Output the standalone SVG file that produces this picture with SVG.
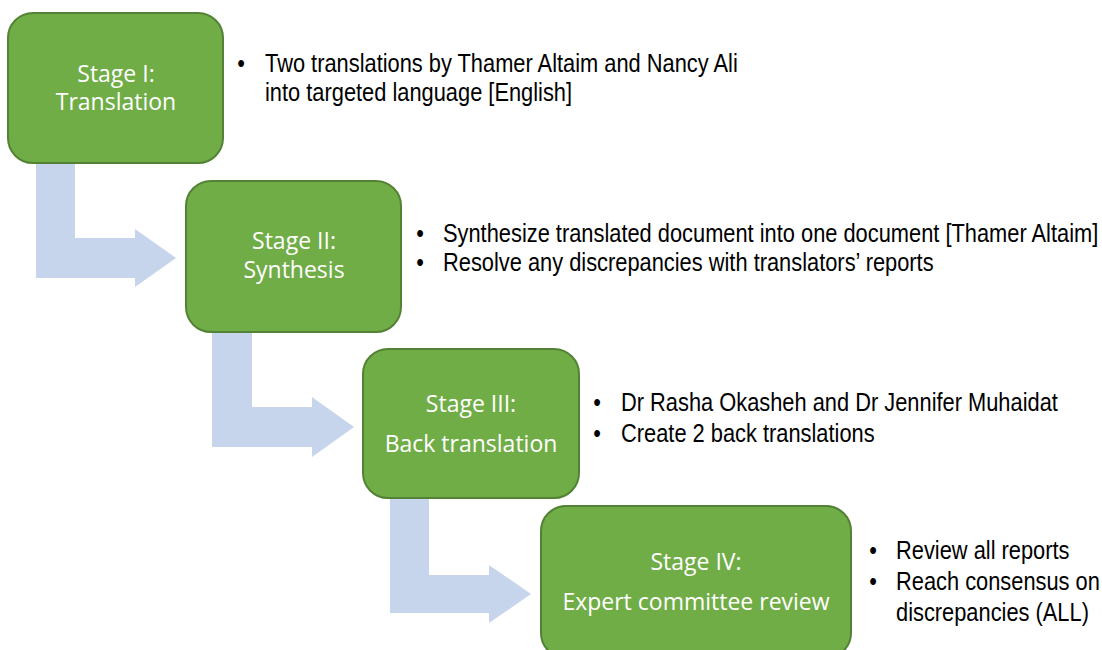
<svg xmlns="http://www.w3.org/2000/svg" width="1102" height="650" viewBox="0 0 1102 650">
  <style>
    .stage rect { fill: #70AD47; stroke: #548235; stroke-width: 2; }
    .stage text { font-family: "Open Sans", "Noto Sans", sans-serif; font-size: 23px; fill: #FFFFFF; text-anchor: middle; }
    .notes text { font-family: "Liberation Sans Narrow", "Liberation Sans", Arial, sans-serif; font-size: 26px; fill: #000000; }
    .notes .dot { text-anchor: middle; }
    .flow { fill: #C6D5EB; stroke: none; }
  </style>
  <rect width="1102" height="650" fill="#FFFFFF"/>

  <!-- bent block arrows linking consecutive stages -->
  <g id="connectors">
    <path class="flow" d="M36,160 L75,160 L75,238 L135,238 L135,229 L176,258 L135,287 L135,278 L36,278 Z"/>
    <path class="flow" d="M212,330 L252,330 L252,407 L312,407 L312,397 L354,427 L312,457 L312,447 L212,447 Z"/>
    <path class="flow" d="M390,496 L429,496 L429,575 L489,575 L489,565 L531,594 L489,623 L489,613 L390,613 Z"/>
  </g>

  <!-- Stage I -->
  <g id="stage1" class="stage">
    <rect x="8" y="13" width="215" height="150" rx="25" ry="25"/>
    <text x="116" y="82">Stage I:</text>
    <text x="116" y="110">Translation</text>
  </g>
  <!-- bullet notes use a condensed sans: horizontally squeezed to 84% -->
  <g id="notes1" class="notes" transform="translate(265,0) scale(0.84,1)">
    <text class="dot" x="-28.6" y="72">•</text>
    <text x="0" y="72">Two translations by Thamer Altaim and Nancy Ali</text>
    <text x="0" y="101">into targeted language [English]</text>
  </g>

  <!-- Stage II -->
  <g id="stage2" class="stage">
    <rect x="186" y="181" width="215" height="151" rx="25" ry="25"/>
    <text x="294" y="249">Stage II:</text>
    <text x="294" y="278">Synthesis</text>
  </g>
  <g id="notes2" class="notes" transform="translate(443,0) scale(0.84,1)">
    <text class="dot" x="-27.4" y="242">•</text>
    <text x="0" y="242">Synthesize translated document into one document [Thamer Altaim]</text>
    <text class="dot" x="-27.4" y="271">•</text>
    <text x="0" y="271">Resolve any discrepancies with translators’ reports</text>
  </g>

  <!-- Stage III -->
  <g id="stage3" class="stage">
    <rect x="363" y="349" width="216" height="149" rx="25" ry="25"/>
    <text x="471" y="412">Stage III:</text>
    <text x="471" y="452">Back translation</text>
  </g>
  <g id="notes3" class="notes" transform="translate(621,0) scale(0.84,1)">
    <text class="dot" x="-28.6" y="411">•</text>
    <text x="0" y="411">Dr Rasha Okasheh and Dr Jennifer Muhaidat</text>
    <text class="dot" x="-28.6" y="442">•</text>
    <text x="0" y="442">Create 2 back translations</text>
  </g>

  <!-- Stage IV -->
  <g id="stage4" class="stage">
    <rect x="541" y="506" width="310" height="152" rx="25" ry="25"/>
    <text x="696" y="570">Stage IV:</text>
    <text x="696" y="610">Expert committee review</text>
  </g>
  <g id="notes4" class="notes" transform="translate(896,0) scale(0.84,1)">
    <text class="dot" x="-27.4" y="559">•</text>
    <text x="0" y="559">Review all reports</text>
    <text class="dot" x="-27.4" y="590">•</text>
    <text x="0" y="590">Reach consensus on</text>
    <text x="0" y="621">discrepancies (ALL)</text>
  </g>
</svg>
